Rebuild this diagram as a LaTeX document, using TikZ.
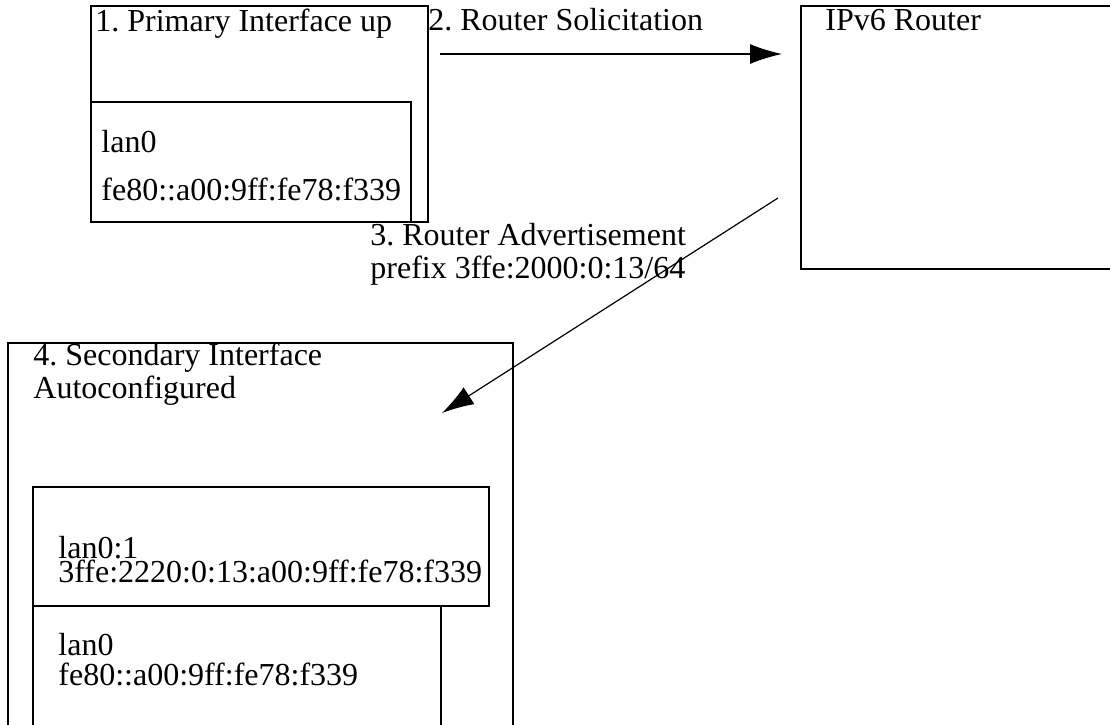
\documentclass[tikz,border=0pt]{standalone}
\usepackage{fontspec}
\setmainfont{Liberation Serif}
\usepackage{tikz}
\usetikzlibrary{arrows.meta}
\frenchspacing

\begin{document}
\begin{tikzpicture}[
	x=0.5pt, y=-0.5pt,
	% box and label styles
	box style/.style={draw, line width=0.6pt, rectangle, anchor=north west, inner sep=0pt, outer sep=0pt},
	label style/.style={anchor=base west, inner sep=0pt, align=left, font=\fontsize{16}{16.5}\selectfont},
	msg style/.style={line width=0.6pt, -{Latex[length=16pt,width=10pt]}}
	]
	\useasboundingbox (0,0) rectangle (1110,724);
	\clip (0,0) rectangle (1110,724);

	% Define and place the boxes
	\node[box style, minimum width=168.5pt, minimum height=108pt] (primary) at (91,6) {};
	\node[box style, minimum width=160pt, minimum height=60pt] (primary lan) at (91,102) {};
	\node[box style, minimum width=170pt, minimum height=131.5pt] (router) at (801,6) {};
	\node[box style, minimum width=252.5pt, minimum height=200pt] (secondary) at (8,343) {};
	\node[box style, minimum width=228pt, minimum height=59.5pt] (alias lan) at (33,487) {};
	\node[box style, minimum width=204pt, minimum height=70pt] (secondary lan) at (33,606) {};

	% Labels (base = last line)
	\node[label style] (primary text) at (95,31) {1. Primary Interface up};
	\node[label style] (primary lan text) at (101,200) {lan0\\[7.5pt]fe80::a00:9ff:fe78:f339};
	\node[label style] (solicit text) at (428,30) {2. Router Solicitation};
	\node[label style] (router text) at (825,30) {IPv6 Router};
	\node[label style] (advert text) at (370,278) {3. Router Advertisement\\prefix 3ffe:2000:0:13/64};
	\node[label style] (secondary text) at (33,398) {4. Secondary Interface\\Autoconfigured};
	\node[label style] (alias lan text) at (58,582) {lan0:1\\[-4.5pt]3ffe:2220:0:13:a00:9ff:fe78:f339};
	\node[label style] (secondary lan text) at (58,685) {lan0\\[-1.5pt]fe80::a00:9ff:fe78:f339};

	% --- Draw the messages ---
	\coordinate (solicit start) at (440,54);
	\coordinate (solicit end) at (782,54);
	\coordinate (advert start) at (778,198);
	\coordinate (advert end) at (442,413);
	\draw[msg style] (solicit start) -- (solicit end);
	\draw[msg style] (advert start) -- (advert end);
\end{tikzpicture}
\end{document}
